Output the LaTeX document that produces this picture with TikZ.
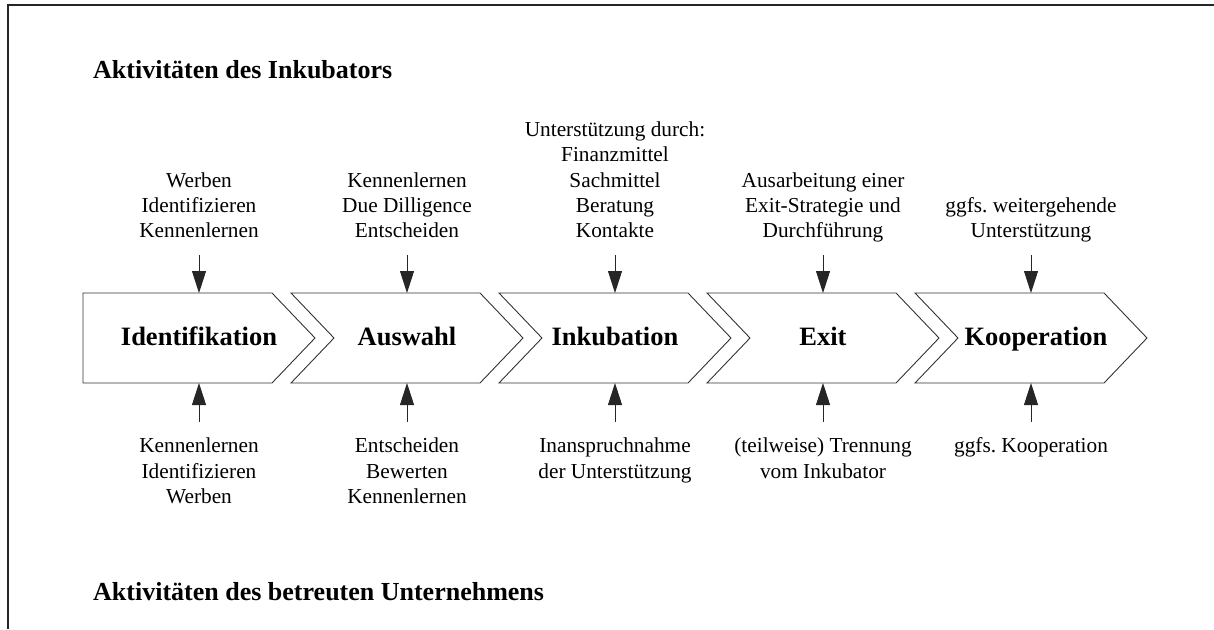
\documentclass[tikz,border=0pt]{standalone}
\usepackage{fontspec}
\setmainfont{Liberation Serif}
\usetikzlibrary{arrows.meta}
\newcommand\myhstrut{\rule[-7.6pt]{0pt}{25.3pt}}
\frenchspacing
\begin{document}
\begin{tikzpicture}[x=1pt,y=-1pt,
  chev/.style={draw=black!80, line width=0.9pt, line join=miter},
  phase/.style={font=\fontsize{26.5}{30}\selectfont\bfseries, anchor=base, inner sep=0pt},
  heading/.style={font=\fontsize{26}{30}\selectfont\bfseries, anchor=base west, inner sep=0pt},
  upper/.style={font=\fontsize{21.3}{25.3}\selectfont, align=center, anchor=south, inner sep=0pt},
  lower/.style={font=\fontsize{21.3}{25.3}\selectfont, align=center, anchor=north, inner sep=0pt},
  flow/.style={draw=black!85, line width=0.9pt, -{Triangle[length=22pt,width=14pt]}},
  framel/.style={draw=black!85, line width=1.3pt}]
\useasboundingbox (0,0) rectangle (1214,629);
% frame
\draw[framel] (8,629) -- (8,5) -- (1214,5);
% headings
\node[heading] (h1) at (93,78) {Aktivitäten des Inkubators};
\node[heading] (h2) at (93,600) {Aktivitäten des betreuten Unternehmens};
% chevrons
\draw[chev] (83,293) -- (272,293) -- (315,338) -- (272,383) -- (83,383) -- cycle;
\foreach \s in {291,499,707,915}{
  \draw[chev] (\s,293) -- (\s+189,293) -- (\s+232,338) -- (\s+189,383) -- (\s,383) -- (\s+43,338) -- cycle;
}
% phase labels
\node[phase] (p1) at (199,345) {Identifikation};
\node[phase] (p2) at (407,345) {Auswahl};
\node[phase] (p3) at (615,345) {Inkubation};
\node[phase] (p4) at (823,345) {Exit};
\node[phase] (p5) at (1036,345) {Kooperation};
% arrow end points on chevron edges
\coordinate (t1) at (199,293); \coordinate (b1) at (199,383);
\coordinate (t2) at (407,293); \coordinate (b2) at (407,383);
\coordinate (t3) at (615,293); \coordinate (b3) at (615,383);
\coordinate (t4) at (823,293); \coordinate (b4) at (823,383);
\coordinate (t5) at (1031,293); \coordinate (b5) at (1031,383);
% upper texts
\node[upper] (u1) at (199,245.6) {Werben\\Identifizieren\\Kennenlernen\myhstrut};
\node[upper] (u2) at (407,245.6) {Kennenlernen\\Due Dilligence\\Entscheiden\myhstrut};
\node[upper] (u3) at (615,245.6) {Unterstützung durch:\\Finanzmittel\\Sachmittel\\Beratung\\Kontakte\myhstrut};
\node[upper] (u4) at (823,245.6) {Ausarbeitung einer\\Exit-Strategie und\\Durchführung\myhstrut};
\node[upper] (u5) at (1031,245.6) {ggfs. weitergehende\\Unterstützung\myhstrut};
% lower texts
\node[lower] (l1) at (199,434.8) {\myhstrut Kennenlernen\\Identifizieren\\Werben};
\node[lower] (l2) at (407,434.8) {\myhstrut Entscheiden\\Bewerten\\Kennenlernen};
\node[lower] (l3) at (615,434.8) {\myhstrut Inanspruchnahme\\der Unterstützung};
\node[lower] (l4) at (823,434.8) {\myhstrut (teilweise) Trennung\\vom Inkubator};
\node[lower] (l5) at (1031,434.8) {\myhstrut ggfs. Kooperation};
% arrows
\foreach \i in {1,...,5}{
  \draw[flow, shorten <=9.4pt] (u\i) -- (t\i);
  \draw[flow, shorten <=12.8pt] (l\i) -- (b\i);
}
\end{tikzpicture}
\end{document}
